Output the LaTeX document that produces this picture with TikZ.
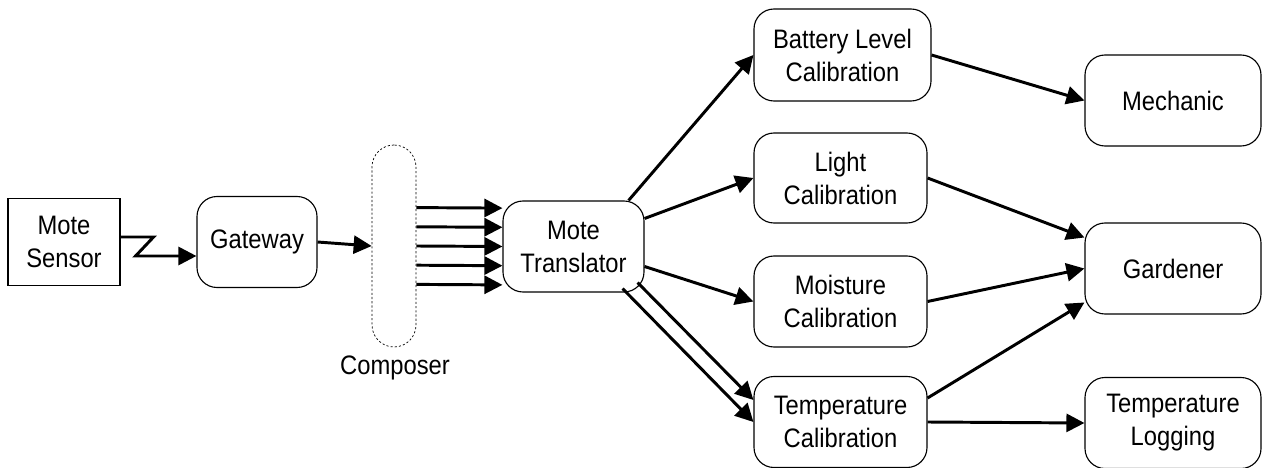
\documentclass[tikz,border=0pt]{standalone}
\usepackage{fontspec}
\setmainfont{Liberation Sans}[FakeStretch=0.89]
\usepackage{tikz}
\usetikzlibrary{shapes,arrows.meta,positioning,calc}

\begin{document}
\begin{tikzpicture}[
    font=\fontsize{19}{23.5}\selectfont,
    unit/.style={draw, rectangle, rounded corners=0.5cm, line width=0.8pt, minimum height=2.275cm, align=center, inner sep=2pt},
    sensorbox/.style={draw, rectangle, line width=0.8pt, minimum width=2.8cm, minimum height=2.175cm, align=center},
    composerbox/.style={draw, rectangle, rounded corners=0.55cm, dash pattern=on 1.5pt off 1.5pt, line width=0.5pt, minimum width=1.1cm, minimum height=5.05cm},
    flow/.style={line width=2.1pt, -{Triangle[length=0.45cm,width=0.45cm]}}
]
\useasboundingbox (0,0) rectangle (31.55,-11.7);

% Source side
\node[sensorbox] (sensor) at (1.6,-6.05) {Mote\\Sensor};
\node[unit, minimum width=3cm] (gateway) at (6.425,-6.05) {Gateway};
\node[composerbox] (composer) at (9.85,-6.15) {};
\node (composerlabel) at (9.875,-9.2) {Composer};
\node[unit, minimum width=3.525cm] (translator) at (14.3375,-6.1625) {Mote\\Translator};

% Calibration column
\node[unit, minimum width=4.425cm, minimum height=2.3cm] (battery) at (21.0625,-1.375) {Battery Level\\Calibration};
\node[unit, minimum width=4.325cm, minimum height=2.25cm] (light) at (21.0125,-4.45) {Light\\Calibration};
\node[unit, minimum width=4.325cm] (moisture) at (21.0125,-7.5375) {Moisture\\Calibration};
\node[unit, minimum width=4.325cm] (tempcal) at (21.0125,-10.55) {Temperature\\Calibration};

% Consumers
\node[unit, minimum width=4.4cm] (mechanic) at (29.325,-2.5125) {Mechanic};
\node[unit, minimum width=4.4cm] (gardener) at (29.325,-6.7125) {Gardener};
\node[unit, minimum width=4.4cm] (templog) at (29.325,-10.575) {Temperature\\Logging};

% Connections
\draw[flow] ([yshift=0.125cm]sensor.east) -- ++(0.825,0) -- ++(-0.45,-0.475) -- ([yshift=-0.35cm]gateway.west);
\draw[flow] (gateway.east) -- (composer.west);
\foreach \dy in {0.96,0.48,0,-0.48,-0.96}
    \draw[flow] ([yshift=\dy cm]composer.east) -- ([yshift=\dy cm]translator.west);

\draw[flow] ([xshift=-0.4cm]translator.north east) -- (battery.west);
\draw[flow] ([yshift=0.7cm]translator.east) -- (light.west);
\draw[flow] ([yshift=-0.5cm]translator.east) -- (moisture.west);
\draw[flow] ([xshift=-0.175cm,yshift=0.25cm]translator.south east) -- ([yshift=0.55cm]tempcal.west);
\draw[flow] ([xshift=-0.55cm,yshift=0.1cm]translator.south east) -- (tempcal.west);

\draw[flow] (battery.east) -- (mechanic.west);
\draw[flow] (light.east) -- ([yshift=0.775cm]gardener.west);
\draw[flow] (moisture.east) -- (gardener.west);
\draw[flow] ([yshift=0.6cm]tempcal.east) -- ([yshift=-0.85cm]gardener.west);
\draw[flow] (tempcal.east) -- (templog.west);

\end{tikzpicture}
\end{document}
